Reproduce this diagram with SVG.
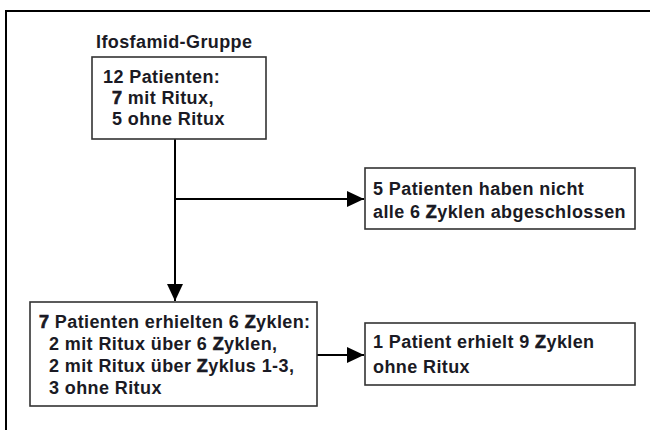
<svg xmlns="http://www.w3.org/2000/svg" width="650" height="430" viewBox="0 0 650 430">
<defs>
<marker id="arr" markerWidth="17" markerHeight="16" refX="17" refY="8" orient="auto" markerUnits="userSpaceOnUse" viewBox="0 0 17 16">
<path d="M0,0 L17,8 L0,16 Z" fill="#000"/>
</marker>
<style>
.box{fill:#fff;stroke:#333;stroke-width:1.6}
.t{font-family:"Liberation Sans",Arial,sans-serif;font-size:18px;font-weight:bold;fill:#1a1a24;letter-spacing:0.4px}
.c{fill:none;stroke:#000;stroke-width:2}
.z{stroke:#1a1a24;stroke-width:0.7}
</style>
</defs>
<rect width="650" height="430" fill="#fff"/>
<path d="M6,430 V11 H650" fill="none" stroke="#000" stroke-width="2"/>
<g id="connectors">
<path class="c" d="M175,139 V301" marker-end="url(#arr)"/>
<path class="c" d="M175,199 H364" marker-end="url(#arr)"/>
<path class="c" d="M317,355 H364" marker-end="url(#arr)"/>
</g>
<g id="title">
<text class="t" x="96" y="48">Ifosfamid-Gruppe</text>
</g>
<g id="node-top">
<rect class="box" x="92" y="57" width="174" height="82"/>
<text class="t" x="103" y="83">12 Patienten:</text>
<text class="t" x="112" y="104"><tspan class="z">7</tspan> mit Ritux,</text>
<text class="t" x="112" y="125">5 ohne Ritux</text>
</g>
<g id="node-right-top">
<rect class="box" x="365" y="168" width="270" height="61"/>
<text class="t" x="373" y="195">5 Patienten haben nicht</text>
<text class="t" x="373" y="218">alle 6 <tspan class="z">Z</tspan>yklen abgeschlossen</text>
</g>
<g id="node-bottom">
<rect class="box" x="30" y="302" width="287" height="104"/>
<text class="t" x="39" y="328"><tspan class="z">7</tspan> Patienten erhielten 6 <tspan class="z">Z</tspan>yklen:</text>
<text class="t" x="49" y="350">2 mit Ritux über 6 <tspan class="z">Z</tspan>yklen,</text>
<text class="t" x="49" y="372">2 mit Ritux über <tspan class="z">Z</tspan>yklus 1-3,</text>
<text class="t" x="49" y="394">3 ohne Ritux</text>
</g>
<g id="node-right-bottom">
<rect class="box" x="365" y="323" width="270" height="62"/>
<text class="t" x="373" y="348">1 Patient erhielt 9 <tspan class="z">Z</tspan>yklen</text>
<text class="t" x="373" y="373">ohne Ritux</text>
</g>
</svg>
